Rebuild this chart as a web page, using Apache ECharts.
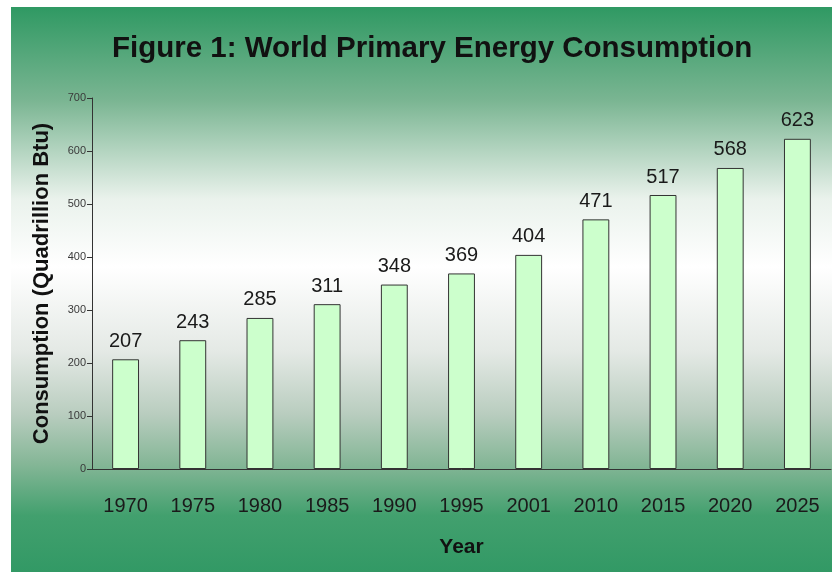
<!DOCTYPE html>
<html>
<head>
<meta charset="utf-8">
<title>World Primary Energy Consumption</title>
<script src="https://cdn.jsdelivr.net/npm/echarts@6/dist/echarts.min.js"></script>
<style>
  html, body { margin: 0; padding: 0; background: #ffffff; }
  #chart { width: 832px; height: 572px; }
</style>
</head>
<body>
<div id="chart"></div>
<script>
// data
const years = ['1970', '1975', '1980', '1985', '1990', '1995', '2001', '2010', '2015', '2020', '2025'];
const consumption = [207, 243, 285, 311, 348, 369, 404, 471, 517, 568, 623];
const yTicks = { min: 0, max: 700, step: 100 };

const chart = echarts.init(document.getElementById('chart'));

const option = {
    backgroundColor: 'transparent',
    animation: false,
    textStyle: { fontFamily: 'Liberation Sans, Arial, sans-serif' },
    // green panel behind everything
    graphic: [{
        type: 'rect',
        z: -10,
        shape: { x: 11, y: 7, width: 821, height: 565 },
        style: {
            fill: new echarts.graphic.LinearGradient(0, 0, 0, 1, [
                { offset: 0, color: '#2f9963' },
                { offset: 0.165, color: '#7ab592' },
                { offset: 0.34, color: '#eaf2ec' },
                { offset: 0.46, color: '#ffffff' },
                { offset: 0.61, color: '#e4e9e5' },
                { offset: 0.72, color: '#b9cdbf' },
                { offset: 0.81, color: '#84b696' },
                { offset: 0.90, color: '#42a06e' },
                { offset: 1, color: '#329965' }
            ])
        }
    }],
    title: {
        text: 'Figure 1: World Primary Energy Consumption',
        left: 107,
        top: 29,
        textStyle: {
            fontSize: 29.5,
            fontWeight: 'bold',
            color: '#111111'
        }
    },
    grid: {
        left: 92,
        right: 1,
        top: 98,
        bottom: 103
    },
    xAxis: {
        type: 'category',
        data: years,
        name: 'Year',
        nameLocation: 'middle',
        nameGap: 68,
        nameTextStyle: { fontSize: 21, fontWeight: 'bold', color: '#111111' },
        axisLine: { lineStyle: { color: '#333333', width: 1 } },
        axisTick: { length: 5, lineStyle: { color: '#333333' } },
        axisLabel: { fontSize: 20, color: '#1a1a1a', margin: 27 }
    },
    yAxis: {
        type: 'value',
        min: yTicks.min,
        max: yTicks.max,
        interval: yTicks.step,
        name: 'Consumption (Quadrillion Btu)',
        nameLocation: 'middle',
        nameGap: 39,
        nameTextStyle: { fontSize: 22, fontWeight: 'bold', color: '#111111' },
        axisLine: { show: true, lineStyle: { color: '#333333', width: 1 } },
        axisTick: { show: true, length: 5, lineStyle: { color: '#333333' } },
        axisLabel: { fontSize: 11, color: '#3a3a3a', margin: 6 },
        splitLine: { show: false }
    },
    series: [{
        type: 'bar',
        data: consumption,
        barWidth: '40%',
        itemStyle: {
            color: '#ccffcc',
            borderColor: '#333333',
            borderWidth: 1
        },
        label: {
            show: true,
            position: 'top',
            distance: 8,
            fontSize: 20,
            color: '#1a1a1a'
        }
    }]
};

chart.setOption(option);
</script>
</body>
</html>
